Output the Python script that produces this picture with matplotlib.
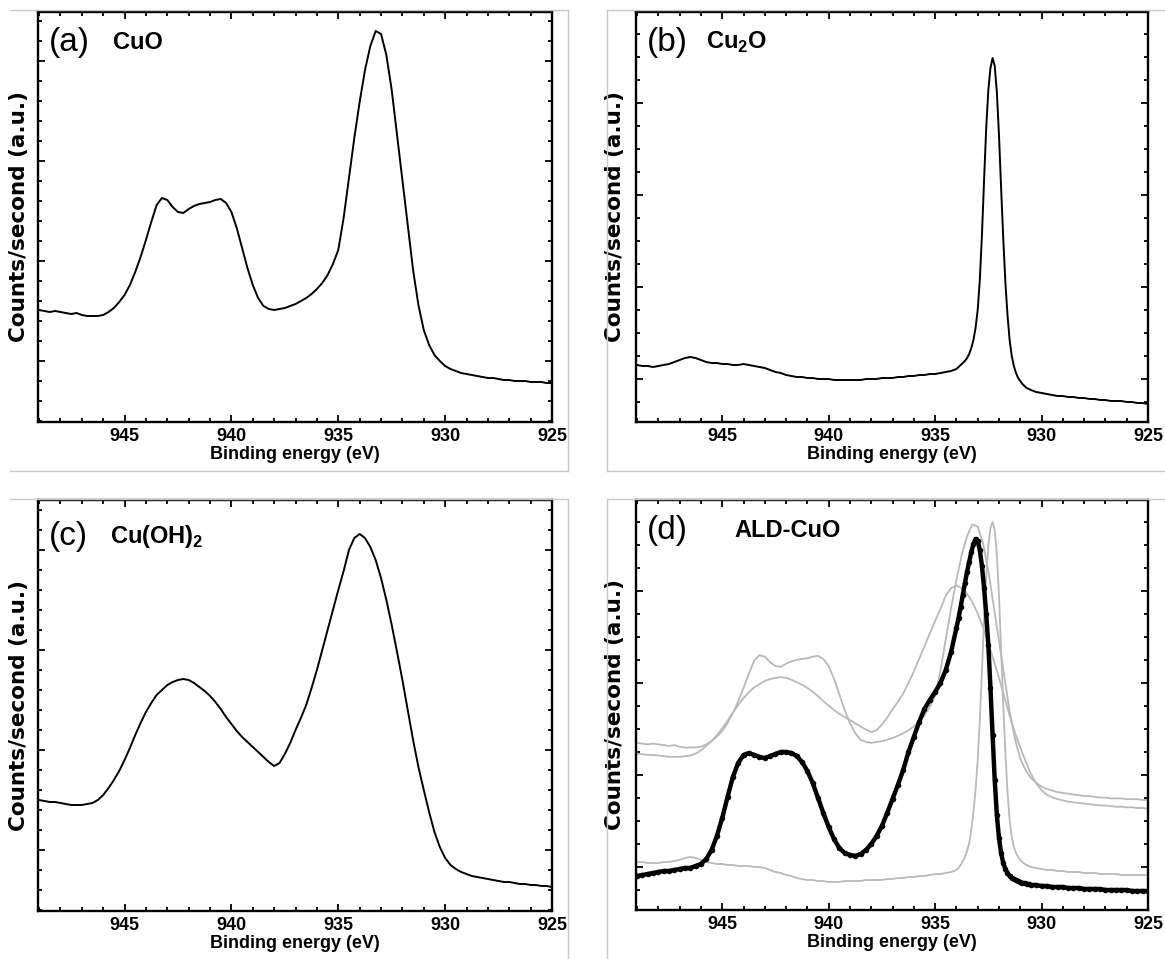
import numpy as np
import matplotlib
matplotlib.use("Agg")
import matplotlib.pyplot as plt
from matplotlib.ticker import MultipleLocator
from matplotlib.lines import Line2D

plt.rcParams['font.family'] = ['Liberation Sans', 'DejaVu Sans']
plt.rcParams['font.weight'] = 'bold'
plt.rcParams['mathtext.fontset'] = 'custom'
plt.rcParams['mathtext.rm'] = 'Liberation Sans'
plt.rcParams['mathtext.bf'] = 'Liberation Sans:bold'

# ---- binding-energy grids (eV, high -> low) ----
energy_coarse = np.round(np.arange(949.0, 924.99, -0.25), 2)
energy_fine = np.round(np.concatenate([
    np.arange(949.0, 933.99, -0.25),
    np.arange(933.9, 930.55, -0.1),
    np.arange(930.5, 924.99, -0.25),
]), 2)

# ---- Cu 2p3/2 spectra (counts/second, arbitrary units) ----
cuo = [1.12, 1.11, 1.10, 1.11, 1.10, 1.09, 1.08, 1.09, 1.07, 1.06,
       1.06, 1.06, 1.07, 1.10, 1.14, 1.20, 1.27, 1.37, 1.50, 1.65,
       1.82, 2.00, 2.17, 2.24, 2.22, 2.15, 2.10, 2.09, 2.13, 2.16,
       2.18, 2.19, 2.20, 2.22, 2.23, 2.19, 2.10, 1.94, 1.74, 1.54,
       1.37, 1.24, 1.16, 1.13, 1.12, 1.13, 1.14, 1.16, 1.18, 1.21,
       1.24, 1.28, 1.33, 1.39, 1.47, 1.58, 1.72, 2.04, 2.44, 2.84,
       3.20, 3.52, 3.76, 3.91, 3.88, 3.67, 3.32, 2.87, 2.42, 1.97,
       1.52, 1.17, 0.92, 0.77, 0.67, 0.61, 0.56, 0.53, 0.51, 0.49,
       0.48, 0.47, 0.46, 0.45, 0.44, 0.44, 0.43, 0.42, 0.42, 0.41,
       0.41, 0.41, 0.40, 0.40, 0.40, 0.39, 0.39]

cu2o = [0.57, 0.56, 0.56, 0.55, 0.56, 0.57, 0.58, 0.60, 0.62, 0.64,
        0.65, 0.64, 0.62, 0.60, 0.59, 0.59, 0.58, 0.58, 0.57, 0.57,
        0.58, 0.57, 0.56, 0.55, 0.54, 0.52, 0.50, 0.49, 0.47, 0.46,
        0.45, 0.45, 0.44, 0.44, 0.43, 0.43, 0.43, 0.42, 0.42, 0.42,
        0.42, 0.42, 0.42, 0.43, 0.43, 0.43, 0.44, 0.44, 0.44, 0.45,
        0.45, 0.46, 0.46, 0.47, 0.47, 0.48, 0.48, 0.49, 0.50, 0.51,
        0.53,
        0.55, 0.57, 0.59, 0.61, 0.64, 0.68, 0.74, 0.82, 0.94, 1.12,
        1.42, 1.87, 2.42, 2.94, 3.32, 3.54, 3.64, 3.56, 3.30, 2.87,
        2.34, 1.84, 1.40, 1.07, 0.82, 0.66, 0.56, 0.49, 0.44, 0.41,
        0.38, 0.36, 0.34, 0.33,
        0.32, 0.30, 0.29, 0.28, 0.27, 0.26, 0.26, 0.25, 0.25, 0.24,
        0.24, 0.23, 0.23, 0.22, 0.22, 0.21, 0.21, 0.21, 0.20, 0.20,
        0.19, 0.19, 0.18]

cuoh2 = [1.11, 1.10, 1.09, 1.09, 1.08, 1.07, 1.06, 1.06, 1.06, 1.07,
         1.08, 1.11, 1.16, 1.23, 1.31, 1.40, 1.51, 1.63, 1.76, 1.88,
         1.99, 2.08, 2.16, 2.21, 2.26, 2.29, 2.31, 2.32, 2.31, 2.28,
         2.24, 2.20, 2.15, 2.09, 2.02, 1.94, 1.87, 1.80, 1.74, 1.69,
         1.64, 1.59, 1.54, 1.49, 1.45, 1.48, 1.57, 1.68, 1.81, 1.93,
         2.06, 2.23, 2.41, 2.61, 2.81, 3.01, 3.21, 3.40, 3.61, 3.73,
         3.77, 3.73, 3.64, 3.51, 3.33, 3.11, 2.86, 2.59, 2.31, 2.01,
         1.71, 1.44, 1.21, 0.99, 0.79, 0.64, 0.53, 0.46, 0.42, 0.39,
         0.37, 0.35, 0.34, 0.33, 0.32, 0.31, 0.30, 0.29, 0.29, 0.28,
         0.27, 0.27, 0.26, 0.26, 0.25, 0.25, 0.24]

ald_cuo = [0.34, 0.35, 0.36, 0.37, 0.38, 0.39, 0.39, 0.40, 0.41, 0.42,
           0.42, 0.44, 0.46, 0.51, 0.60, 0.74, 0.92, 1.13, 1.33, 1.47,
           1.55, 1.57, 1.55, 1.53, 1.52, 1.54, 1.56, 1.58, 1.58, 1.57,
           1.54, 1.48, 1.39, 1.27, 1.12, 0.97, 0.83, 0.71, 0.62, 0.57,
           0.55, 0.54, 0.56, 0.60, 0.66, 0.74, 0.84, 0.97, 1.11, 1.25,
           1.40, 1.58, 1.73, 1.88, 2.01, 2.10, 2.18, 2.27, 2.40, 2.58,
           2.82,
           2.92, 3.03, 3.15, 3.27, 3.38, 3.48, 3.58, 3.66, 3.71, 3.69,
           3.60, 3.44, 3.22, 2.96, 2.65, 2.22, 1.75, 1.30, 0.95, 0.72,
           0.57, 0.47, 0.41, 0.37, 0.34, 0.32, 0.31, 0.30, 0.29, 0.28,
           0.27, 0.27, 0.26, 0.26,
           0.25, 0.25, 0.24, 0.24, 0.23, 0.23, 0.23, 0.22, 0.22, 0.22,
           0.21, 0.21, 0.21, 0.21, 0.20, 0.20, 0.20, 0.20, 0.20, 0.19,
           0.19, 0.19, 0.19]

# Cu2O reference as overlaid (background-corrected) in panel (d)
cu2o_overlay = [0.48, 0.48, 0.47, 0.47, 0.47, 0.48, 0.48, 0.49, 0.50, 0.52,
                0.53, 0.52, 0.50, 0.48, 0.47, 0.46, 0.46, 0.45, 0.45, 0.44,
                0.44, 0.44, 0.43, 0.43, 0.42, 0.40, 0.38, 0.37, 0.35, 0.34,
                0.32, 0.31, 0.30, 0.30, 0.29, 0.29, 0.28, 0.28, 0.28, 0.29,
                0.29, 0.29, 0.29, 0.30, 0.30, 0.30, 0.30, 0.31, 0.31, 0.32,
                0.32, 0.33, 0.33, 0.34, 0.34, 0.35, 0.36, 0.36, 0.37, 0.38,
                0.40,
                0.42, 0.45, 0.49, 0.53, 0.59, 0.67, 0.80, 0.98, 1.20, 1.50,
                1.90, 2.40, 2.90, 3.33, 3.64, 3.82, 3.88, 3.80, 3.55, 3.15,
                2.60, 2.05, 1.58, 1.18, 0.90, 0.73, 0.63, 0.57, 0.53, 0.50,
                0.48, 0.46, 0.45, 0.44,
                0.43, 0.42, 0.41, 0.40, 0.40, 0.39, 0.39, 0.38, 0.38, 0.38,
                0.37, 0.37, 0.37, 0.36, 0.36, 0.36, 0.36, 0.35, 0.35, 0.35,
                0.35, 0.35, 0.35]

# normalisation (scale, offset) of the CuO and Cu(OH)2 references in panel (d)
cuo_norm = (0.783, 0.795)
cuoh2_norm = (0.632, 0.862)

W, H = 1165, 959
fig = plt.figure(figsize=(W / 100, H / 100), dpi=100)


def axes_px(x0, y0, x1, y1):
    return fig.add_axes([x0 / W, 1 - y1 / H, (x1 - x0) / W, (y1 - y0) / H])


def frame_line(xs, ys):
    fig.add_artist(Line2D([x / W for x in xs], [1 - y / H for y in ys],
                          transform=fig.transFigure, color='#c8c8c8', lw=1.0))


# light panel frames
frame_line([10, 568], [10, 10]); frame_line([568, 568], [10, 471]); frame_line([10, 568], [471, 471])
frame_line([607, 607], [10, 471]); frame_line([607, 1165], [10, 10]); frame_line([607, 1165], [471, 471])
frame_line([10, 568], [499, 499]); frame_line([568, 568], [499, 959])
frame_line([607, 607], [499, 959]); frame_line([607, 1165], [499, 499])


def style(ax, ytop, ymaj, ymaj_off, ymin, ymin_off, ylab_x):
    ax.set_xlim(949.05, 925)
    ax.set_ylim(0, ytop)
    ax.xaxis.set_major_locator(MultipleLocator(5))
    ax.xaxis.set_minor_locator(MultipleLocator(1))
    ax.yaxis.set_major_locator(MultipleLocator(ymaj, offset=ymaj_off))
    ax.yaxis.set_minor_locator(MultipleLocator(ymin, offset=ymin_off))
    ax.tick_params(which='both', direction='in', top=True, right=True,
                   width=1.3, color='k')
    ax.tick_params(which='major', length=5)
    ax.tick_params(which='minor', length=3)
    ax.tick_params(axis='y', which='both', labelleft=False)
    ax.tick_params(axis='x', labelsize=13, pad=4)
    for s in ax.spines.values():
        s.set_linewidth(1.7)
    ax.set_xlabel('Binding energy (eV)', fontsize=13, fontweight='bold', labelpad=1)
    ax.set_ylabel('Counts/second (a.u.)', fontsize=15.5, fontweight='bold',
                  family=['DejaVu Sans'])
    ax.yaxis.set_label_coords(ylab_x, 0.5)


def tag(ax, letter, name, name_x, y=0.925):
    ax.text(0.022, y, letter, transform=ax.transAxes, fontsize=24,
            fontweight='normal', ha='left', va='center')
    ax.text(name_x, y, name, transform=ax.transAxes, fontsize=17,
            fontweight='bold', ha='left', va='center')


trace = dict(color='k', lw=1.4)

# (a) CuO
ax_a = axes_px(38, 12, 552, 422)
ax_a.plot(energy_coarse, cuo, **trace)
style(ax_a, 4.10, 1.0, 0.61, 0.2, 0.01, -0.017)
tag(ax_a, '(a)', 'CuO', 0.146)

# (b) Cu2O
ax_b = axes_px(636, 12, 1148, 422)
ax_b.plot(energy_fine, cu2o, **trace)
style(ax_b, 4.10, 0.92, 0.43, 0.23, 0.20, -0.021)
tag(ax_b, '(b)', r'Cu$_\mathbf{2}$O', 0.137)

# (c) Cu(OH)2
ax_c = axes_px(38, 500, 552, 911)
ax_c.plot(energy_coarse, cuoh2, **trace)
style(ax_c, 4.11, 1.0, 0.61, 0.2, 0.01, -0.017)
tag(ax_c, '(c)', r'Cu(OH)$_\mathbf{2}$', 0.140, y=0.91)

# (d) ALD-CuO with the three references
ax_d = axes_px(636, 500, 1148, 910)
grey = dict(color='#b9b9b9', lw=1.3)
ax_d.plot(energy_coarse, cuo_norm[0] * np.array(cuo) + cuo_norm[1], **grey)
ax_d.plot(energy_coarse, cuoh2_norm[0] * np.array(cuoh2) + cuoh2_norm[1], **grey)
ax_d.plot(energy_fine, cu2o_overlay, **grey)
ax_d.plot(energy_fine, ald_cuo, color='k', lw=3.2, marker='o', ms=4, mew=0)
style(ax_d, 4.10, 0.92, 0.43, 0.23, 0.20, -0.021)
tag(ax_d, '(d)', 'ALD-CuO', 0.193)

fig.savefig('out.png', dpi=100)
